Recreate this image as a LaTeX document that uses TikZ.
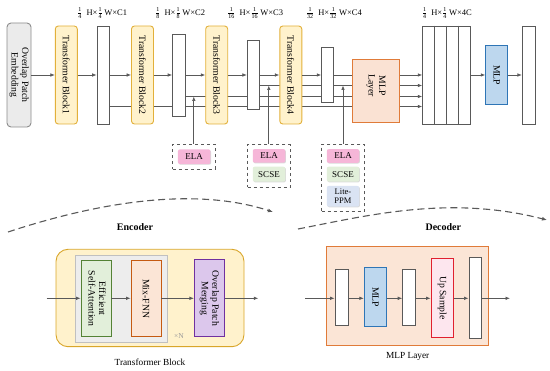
\documentclass[tikz,border=0pt]{standalone}
\usepackage{fontspec}
\setmainfont{Liberation Serif}
\usepackage{graphicx}
\usetikzlibrary{arrows.meta,backgrounds,shadows}
\definecolor{ln}{HTML}{595959}
\definecolor{embf}{HTML}{EBEBEB}
\definecolor{embd}{HTML}{8C8C8C}
\definecolor{tbf}{HTML}{FFF2CC}
\definecolor{tbd}{HTML}{E2B03A}
\definecolor{mlplf}{HTML}{FAE2D3}
\definecolor{mlpld}{HTML}{E07B39}
\definecolor{mlpf}{HTML}{BDD7EE}
\definecolor{mlpd}{HTML}{2E75B6}
\definecolor{elaf}{HTML}{F6B6D8}
\definecolor{scsef}{HTML}{E2EFDA}
\definecolor{ppmf}{HTML}{DAE3F3}
\definecolor{esaf}{HTML}{E2EFDA}
\definecolor{esad}{HTML}{548235}
\definecolor{fnnf}{HTML}{FBE5D6}
\definecolor{fnnd}{HTML}{C55A11}
\definecolor{opmf}{HTML}{DCC7EC}
\definecolor{opmd}{HTML}{7030A0}
\definecolor{grayf}{HTML}{EDEDED}
\definecolor{grayd}{HTML}{C0C0C0}
\definecolor{upf}{HTML}{FDE6EE}
\definecolor{upd}{HTML}{E0202F}
\definecolor{otbd}{HTML}{D9A62A}
\newcommand{\rt}[1]{\rotatebox{-90}{#1}}
\newcommand{\rtt}[2]{\rotatebox{-90}{\begin{tabular}{@{}c@{}}#1\\#2\end{tabular}}}
\newcommand{\fr}[2]{$\frac{\mbox{\fontsize{6}{6}\selectfont #1}}{\mbox{\fontsize{6}{6}\selectfont #2}}$}
\renewcommand{\arraystretch}{0.95}
\begin{document}
\begin{tikzpicture}[x=1pt,y=-1pt,
  lnst/.style={draw=ln, line width=0.7pt},
  arr/.style={lnst, -{Latex[length=4.5pt,width=3.6pt]}},
  wbox/.style={draw=ln, fill=white, line width=0.9pt, inner sep=0pt},
  blk/.style={line width=0.9pt, inner sep=0pt, font=\fontsize{9.7}{11}\selectfont},
  tblk/.style={blk, draw=tbd, fill=tbf, rounded corners=3pt, minimum width=22pt, minimum height=98pt},
  tag/.style={rounded corners=2pt, inner sep=0pt, minimum width=32.5pt, font=\fontsize{9}{10}\selectfont,
    drop shadow={opacity=0.3, shadow xshift=0.7pt, shadow yshift=-0.7pt}},
  dbox/.style={draw=ln, dashed, line width=0.8pt, inner sep=0pt},
  lbl/.style={font=\fontsize{8.5}{10}\selectfont, inner sep=0pt, anchor=west},
  arcline/.style={draw=ln, line width=1.1pt, dash pattern=on 7pt off 4pt, -{Latex[length=5pt,width=4pt]}},
  captext/.style={font=\fontsize{9.3}{10}\selectfont, inner sep=0pt}
  ]
\useasboundingbox (0,0) rectangle (550,371);

% ---------- top row ----------
\node[blk, draw=embd, fill=embf, rounded corners=4pt, minimum width=24pt, minimum height=104pt] (emb) at (19,75) {\rtt{Overlap Patch}{Embedding}};
\node[tblk] (tb1) at (66.3,75) {\rt{Transformer Block1}};
\node[wbox, minimum width=12.3pt, minimum height=98pt] (c1) at (103.2,75) {};
\node[tblk] (tb2) at (142.5,75) {\rt{Transformer Block2}};
\node[wbox, minimum width=12.3pt, minimum height=82pt] (c2) at (178.8,75) {};
\node[tblk] (tb3) at (216.7,75) {\rt{Transformer Block3}};
\node[wbox, minimum width=12pt, minimum height=69pt] (c3) at (253.3,75.3) {};
\node[tblk] (tb4) at (290.8,75) {\rt{Transformer Block4}};
\node[wbox, minimum width=11.6pt, minimum height=55pt] (c4) at (327.5,75) {};
\node[blk, draw=mlpld, fill=mlplf, minimum width=46.6pt, minimum height=63pt] (mlpl) at (376,90.5) {};
\node[blk] (mlplt) at (376,85.5) {\rtt{MLP}{Layer}};
\node[wbox, minimum width=48pt, minimum height=98pt] (cat) at (446.7,75.2) {};
\foreach \k in {12,24,36}
  \draw[lnst, line width=0.9pt] ([xshift=\k pt]cat.north west) -- ([xshift=\k pt]cat.south west);
\node[blk, draw=mlpd, fill=mlpf, minimum width=22pt, minimum height=58.6pt] (mlp) at (496.7,75) {\rt{MLP}};
\node[wbox, minimum width=12.7pt, minimum height=98pt] (out) at (528.7,75) {};

% size labels
\node[lbl] (l1) at (77,13) {\fr14\hspace{4pt}H×\fr14\,W×C1};
\node[lbl] (l2) at (155,13) {\fr18\hspace{4pt}H×\fr18\,W×C2};
\node[lbl] (l3) at (227,13) {\fr{1}{16}\hspace{4pt}H×\fr{1}{16}\,W×C3};
\node[lbl] (l4) at (305.7,13) {\fr{1}{32}\hspace{4pt}H×\fr{1}{32}\,W×C4};
\node[lbl] (l5) at (421.7,13) {\fr14\hspace{4pt}H×\fr14\,W×4C};

% level coordinates
\coordinate (ya) at (0,75);
\coordinate (yb) at (0,85.5);
\coordinate (yc) at (0,96.5);
\coordinate (yd) at (0,106.5);

% main chain
\draw[arr] (emb.east) -- (tb1.west);
\draw[arr] (tb1.east) -- (c1.west);
\draw[arr] (c1.east) -- (tb2.west);
\draw[arr] (tb2.east) -- (c2.west);
\draw[arr] (c2.east) -- (tb3.west);
\draw[arr] (tb3.east) -- (c3.west |- ya);
\draw[arr] (c3.east |- ya) -- (tb4.west);
\draw[arr] (tb4.east) -- (c4.west);
\draw[lnst] (c4.east) -- (mlpl.west |- ya);
\foreach \y in {ya,yb,yc,yd}
  \draw[arr] (mlpl.east |- \y) -- (cat.west |- \y);
\draw[arr] (cat.east |- ya) -- (mlp.west);
\draw[arr] (mlp.east) -- (out.west);

\begin{scope}[on background layer]
\draw[lnst] (c1.east |- yd) -- (mlpl.west |- yd);
\draw[lnst] (c2.east |- yc) -- (mlpl.west |- yc);
\draw[lnst] (c3.east |- yb) -- (mlpl.west |- yb);
\end{scope}

% ---------- attention modules ----------
\node[dbox, minimum width=42.3pt, minimum height=24.7pt] (d1) at (193.8,156.7) {};
\node[tag, fill=elaf, minimum height=14.7pt] (e1) at (194.2,156.7) {ELA};
\node[dbox, minimum width=42.3pt, minimum height=43pt] (d2) at (268.8,165.8) {};
\node[tag, fill=elaf, minimum height=13.7pt] (e2) at (269,155.9) {ELA};
\node[tag, fill=scsef, minimum height=15pt] (s2) at (269,174.2) {SCSE};
\node[dbox, minimum width=42.6pt, minimum height=67.4pt] (d3) at (343,178) {};
\node[tag, fill=elaf, minimum height=13.7pt] (e3) at (343,156) {ELA};
\node[tag, fill=scsef, minimum height=15pt] (s3) at (343,174.2) {SCSE};
\node[tag, fill=ppmf, minimum height=20.7pt, align=center, font=\fontsize{8.5}{9.5}\selectfont] (p3) at (343,196.3) {Lite-\\PPM};

\draw[arr] (d1.north) -- (d1.north |- yc);
\draw[arr] (d2.north) -- (d2.north |- yb);
\draw[arr] (d3.north) -- (d3.north |- yb);

% ---------- encoder / decoder arcs ----------
\coordinate (ea) at (8,232);
\coordinate (eb) at (273,212);
\coordinate (da) at (298,229);
\coordinate (db) at (547,220);
\draw[arcline] (ea) .. controls (90,205) and (190,185) .. (eb);
\draw[arcline] (da) .. controls (370,215) and (450,195) .. (db);
\node[font=\bfseries\fontsize{10}{12}\selectfont] (enc) at (135,227.3) {Encoder};
\node[font=\bfseries\fontsize{10}{12}\selectfont] (dec) at (443.3,227.3) {Decoder};

% ---------- transformer block detail ----------
\node[draw=otbd, fill=tbf, line width=0.9pt, rounded corners=12pt, minimum width=188pt, minimum height=97.4pt, inner sep=0pt] (tbo) at (150,298) {};
\node[draw=grayd, fill=grayf, line width=0.9pt, minimum width=92.3pt, minimum height=87.3pt, inner sep=0pt] (tbg) at (121.2,298.7) {};
\node[blk, draw=esad, fill=esaf, minimum width=30pt, minimum height=76pt] (esa) at (96,298.7) {\rtt{Efficient}{Self-Attention}};
\node[blk, draw=fnnd, fill=fnnf, minimum width=30pt, minimum height=76pt] (fnn) at (146,298.7) {\rt{Mix-FNN}};
\node[blk, draw=opmd, fill=opmf, minimum width=29.7pt, minimum height=76.7pt] (opm) at (209.2,298.3) {\rtt{Overlap Patch}{Merging}};
\node[text=black!40, font=\fontsize{7.5}{8}\selectfont, inner sep=0pt] (xn) at (179,336.5) {×N};
\coordinate (tin) at (46.7,298.3);
\coordinate (tout) at (258.3,298.3);
\draw[arr] (tin) -- (tin -| esa.west);
\draw[arr] (esa.east |- tin) -- (fnn.west |- tin);
\draw[arr] (fnn.east |- tin) -- (opm.west |- tin);
\draw[arr] (opm.east |- tin) -- (tout);
\node[captext] (tbl) at (150,362.3) {Transformer Block};

% ---------- MLP layer detail ----------
\node[draw=mlpld, fill=fnnf, line width=0.9pt, minimum width=161.6pt, minimum height=99pt, inner sep=0pt] (mlo) at (407.5,296.2) {};
\node[wbox, minimum width=13.3pt, minimum height=55.7pt] (b1) at (341.7,297.8) {};
\node[blk, draw=mlpd, fill=mlpf, minimum width=22.4pt, minimum height=59pt] (m2) at (375.5,297.2) {\rt{MLP}};
\node[wbox, minimum width=12.3pt, minimum height=55.7pt] (b2) at (408.8,297.8) {};
\node[blk, draw=upd, fill=upf, minimum width=22.3pt, minimum height=79.4pt] (up) at (442.2,298) {\rt{Up Sample}};
\node[wbox, minimum width=12.7pt, minimum height=81pt] (b3) at (475.3,297.8) {};
\coordinate (min) at (305,298.3);
\coordinate (mout) at (510,298.3);
\draw[arr] (min) -- (min -| b1.west);
\draw[arr] (b1.east |- min) -- (m2.west |- min);
\draw[arr] (m2.east |- min) -- (b2.west |- min);
\draw[arr] (b2.east |- min) -- (up.west |- min);
\draw[arr] (up.east |- min) -- (b3.west |- min);
\draw[arr] (b3.east |- min) -- (mout);
\node[captext] (mll) at (407.7,356) {MLP Layer};
\end{tikzpicture}
\end{document}
